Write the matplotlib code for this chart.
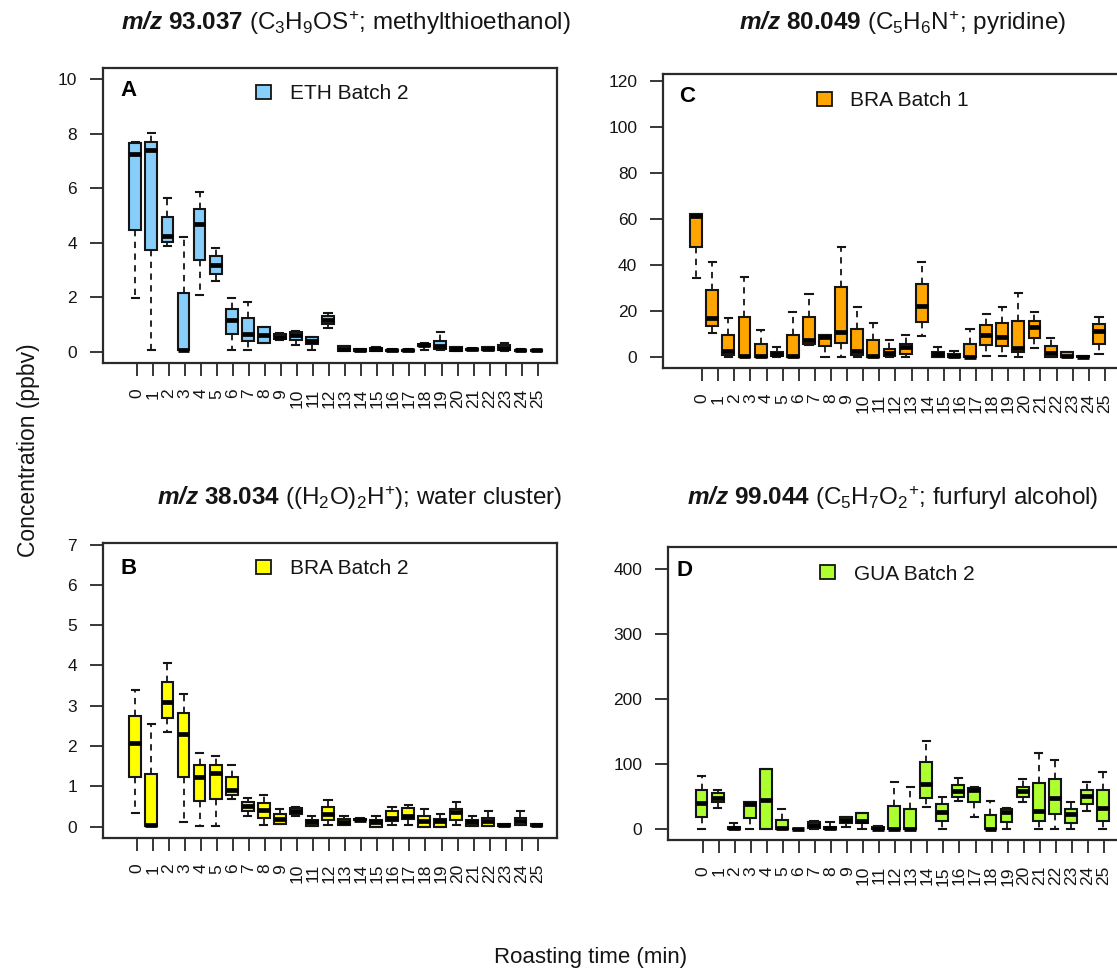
import matplotlib
matplotlib.use('Agg')
import matplotlib.pyplot as plt
from matplotlib.patches import Patch

plt.rcParams['font.family'] = ['Liberation Sans', 'DejaVu Sans']
plt.rcParams['mathtext.fontset'] = 'custom'
plt.rcParams['mathtext.rm'] = 'Liberation Sans'
plt.rcParams['mathtext.it'] = 'Liberation Sans:italic'
plt.rcParams['mathtext.bf'] = 'Liberation Sans:bold'
plt.rcParams['mathtext.bfit'] = 'Liberation Sans:italic:bold'

# ---------------- data ----------------
times = [str(i) for i in range(26)]

# Panel A: m/z 93.037, ETH Batch 2
a_lo  = [1.99, 0.07, 3.89, 0.05, 2.08, 2.59, 0.07, 0.07, 0.33, 0.45, 0.26, 0.07, 0.89,
         0.02, 0.03, 0.03, 0.03, 0.02, 0.07, 0.07, 0.04, 0.06, 0.05, 0.02, 0.04, 0.03]
a_q1  = [4.46, 3.74, 4.02, 0.05, 3.36, 2.84, 0.64, 0.39, 0.33, 0.47, 0.43, 0.28, 1.02,
         0.04, 0.03, 0.03, 0.03, 0.02, 0.22, 0.10, 0.04, 0.06, 0.05, 0.05, 0.04, 0.03]
a_med = [7.25, 7.40, 4.26, 0.08, 4.67, 3.18, 1.16, 0.67, 0.61, 0.55, 0.61, 0.40, 1.16,
         0.12, 0.07, 0.09, 0.05, 0.05, 0.26, 0.20, 0.10, 0.09, 0.10, 0.15, 0.06, 0.05]
a_q3  = [7.66, 7.70, 4.93, 2.14, 5.24, 3.50, 1.57, 1.24, 0.92, 0.65, 0.73, 0.53, 1.30,
         0.20, 0.10, 0.15, 0.08, 0.08, 0.30, 0.38, 0.16, 0.12, 0.17, 0.24, 0.08, 0.07]
a_hi  = [7.70, 8.02, 5.63, 4.20, 5.88, 3.82, 1.96, 1.81, 0.92, 0.68, 0.77, 0.53, 1.42,
         0.22, 0.12, 0.17, 0.09, 0.09, 0.34, 0.71, 0.17, 0.13, 0.18, 0.33, 0.09, 0.08]

# Panel B: m/z 38.034, BRA Batch 2
b_lo  = [0.35, 0.02, 2.34, 0.13, 0.03, 0.03, 0.69, 0.26, 0.05, 0.07, 0.27, 0.01, 0.05,
         0.05, 0.16, 0.00, 0.05, 0.05, 0.00, 0.00, 0.05, 0.01, 0.01, 0.03, 0.05, 0.03]
b_q1  = [1.23, 0.02, 2.70, 1.23, 0.65, 0.69, 0.79, 0.40, 0.21, 0.07, 0.33, 0.01, 0.17,
         0.05, 0.17, 0.00, 0.15, 0.20, 0.00, 0.00, 0.17, 0.01, 0.01, 0.03, 0.05, 0.03]
b_med = [2.09, 0.05, 3.09, 2.30, 1.23, 1.33, 0.91, 0.52, 0.42, 0.20, 0.40, 0.13, 0.31,
         0.13, 0.18, 0.12, 0.23, 0.27, 0.15, 0.15, 0.36, 0.13, 0.15, 0.05, 0.15, 0.05]
b_q3  = [2.74, 1.31, 3.58, 2.83, 1.53, 1.53, 1.23, 0.61, 0.58, 0.31, 0.46, 0.17, 0.49,
         0.20, 0.20, 0.17, 0.40, 0.46, 0.27, 0.19, 0.44, 0.17, 0.23, 0.06, 0.21, 0.07]
b_hi  = [3.40, 2.56, 4.06, 3.30, 1.83, 1.75, 1.53, 0.71, 0.80, 0.44, 0.48, 0.27, 0.66,
         0.27, 0.21, 0.27, 0.48, 0.53, 0.44, 0.31, 0.61, 0.27, 0.40, 0.07, 0.40, 0.08]

# Panel C: m/z 80.049, BRA Batch 1
c_lo  = [34.4, 10.6, 0.1, 0.0, 0.0, 0.0, 0.0, 5.5, 0.0, 0.0, 0.0, 0.0, 0.0,
         0.0, 9.4, 0.0, 0.0, 0.0, 0.7, 0.7, 0.1, 4.0, 0.0, 0.0, 0.0, 1.6]
c_q1  = [47.8, 13.4, 1.2, 0.0, 0.0, 0.4, 0.0, 6.0, 4.8, 6.2, 1.2, 0.0, 0.4,
         1.4, 15.3, 0.0, 0.0, 0.0, 5.5, 4.8, 2.2, 8.4, 0.0, 0.0, 0.0, 5.9]
c_med = [61.2, 17.0, 2.6, 0.4, 0.4, 1.3, 0.7, 7.5, 8.8, 11.0, 2.8, 0.5, 1.9,
         4.5, 22.1, 1.4, 0.7, 0.3, 9.8, 8.8, 4.0, 13.0, 1.9, 0.7, 0.2, 11.3]
c_q3  = [62.3, 29.1, 9.7, 17.5, 5.8, 2.2, 9.7, 17.5, 9.7, 30.4, 12.2, 7.4, 3.6,
         5.8, 31.8, 2.3, 1.6, 5.9, 14.2, 14.9, 15.9, 15.9, 4.8, 2.2, 0.4, 14.6]
c_hi  = [62.3, 41.6, 17.1, 35.1, 12.0, 4.5, 19.7, 27.5, 9.7, 47.8, 22.0, 14.9, 7.4,
         9.7, 41.3, 4.5, 2.9, 12.3, 18.9, 21.8, 27.9, 19.7, 8.4, 2.2, 0.4, 17.5]

# Panel D: m/z 99.044, GUA Batch 2
d_lo  = [0.0, 33.6, 0.0, 0.0, 0.0, 0.0, 0.0, 0.0, 0.0, 4.4, 0.0, 0.0, 0.0,
         0.0, 34.1, 0.0, 44.3, 19.7, 0.0, 0.0, 42.8, 0.0, 0.0, 0.0, 28.4, 0.0]
d_q1  = [19.7, 42.8, 0.0, 17.2, 0.0, 0.0, 0.0, 1.8, 0.0, 9.5, 9.5, 0.0, 0.0,
         0.0, 47.9, 13.1, 50.5, 41.8, 0.0, 12.0, 49.4, 13.1, 23.3, 9.5, 38.7, 13.6]
d_med = [40.2, 48.9, 1.8, 38.7, 45.3, 1.8, 0.3, 6.9, 1.8, 14.6, 13.1, 0.3, 0.5,
         0.5, 70.0, 27.4, 59.7, 60.7, 0.5, 27.4, 59.7, 28.4, 47.9, 23.8, 51.5, 33.6]
d_q3  = [60.7, 55.6, 4.4, 41.8, 93.0, 14.6, 1.0, 12.0, 4.4, 19.7, 24.9, 3.3, 36.1,
         31.0, 104.3, 38.7, 68.4, 63.3, 22.3, 31.0, 65.8, 71.0, 77.1, 31.0, 60.7, 60.7]
d_hi  = [82.7, 60.7, 9.5, 42.8, 93.0, 31.0, 1.0, 13.6, 12.0, 19.7, 24.9, 5.0, 73.5,
         65.8, 136.6, 49.4, 79.7, 64.8, 44.3, 32.5, 77.1, 117.0, 106.8, 41.8, 73.5, 87.9]

# ---------------- layout ----------------
W, H = 1117, 977
fig = plt.figure(figsize=(W / 100, H / 100), dpi=100)
INK = '#151515'


def fx(x):
    return x / W


def fy(y):
    return 1 - y / H


panels = [
    dict(stats=(a_lo, a_q1, a_med, a_q3, a_hi), color='#87CEFA', label='ETH Batch 2', letter='A',
         rect=(103.3, 68.3, 556.7, 362.7), xlim=(-2.08, 26.18), ylim=(-0.4, 10.4),
         yticks=[0, 2, 4, 6, 8, 10], offset=-0.08,
         title=r'$\mathbfit{m/z}$ $\mathbf{93.037}$ (C$_3$H$_9$OS$^{+}$; methylthioethanol)',
         title_xy=(345.5, 23), letter_xy=(120.5, 91), legend_xy=(256, 93.5)),
    dict(stats=(b_lo, b_q1, b_med, b_q3, b_hi), color='#FFFF00', label='BRA Batch 2', letter='B',
         rect=(103.3, 543.3, 556.7, 837.7), xlim=(-2.08, 26.18), ylim=(-0.27, 7.03),
         yticks=[0, 1, 2, 3, 4, 5, 6, 7], offset=-0.08,
         title=r'$\mathbfit{m/z}$ $\mathbf{38.034}$ ((H$_2$O)$_2$H$^{+}$); water cluster)',
         title_xy=(359.5, 498), letter_xy=(121, 568), legend_xy=(256, 568.5)),
    dict(stats=(c_lo, c_q1, c_med, c_q3, c_hi), color='#FFA500', label='BRA Batch 1', letter='C',
         rect=(663.3, 74.3, 1125, 367.7), xlim=(-2.41, 26.25), ylim=(-4.5, 122.9),
         yticks=[0, 20, 40, 60, 80, 100, 120], offset=-0.37,
         title=r'$\mathbfit{m/z}$ $\mathbf{80.049}$ (C$_5$H$_6$N$^{+}$; pyridine)',
         title_xy=(902.5, 23), letter_xy=(679, 97), legend_xy=(816.7, 100.5)),
    dict(stats=(d_lo, d_q1, d_med, d_q3, d_hi), color='#ADFF2F', label='GUA Batch 2', letter='D',
         rect=(668.3, 546.7, 1125, 840.0), xlim=(-2.14, 26.31), ylim=(-16.3, 434.7),
         yticks=[0, 100, 200, 300, 400], offset=-0.07,
         title=r'$\mathbfit{m/z}$ $\mathbf{99.044}$ (C$_5$H$_7$O$_2$$^{+}$; furfuryl alcohol)',
         title_xy=(892.5, 498), letter_xy=(676.5, 571), legend_xy=(820, 574)),
]

for p in panels:
    l, t, r, b = p['rect']
    ax = fig.add_axes([fx(l), fy(b), (r - l) / W, (b - t) / H])
    lo, q1, med, q3, hi = p['stats']
    stats = [dict(med=m, q1=a, q3=c, whislo=w0, whishi=w1, fliers=[])
             for w0, a, m, c, w1 in zip(lo, q1, med, q3, hi)]
    positions = [i + p['offset'] for i in range(len(times))]
    ax.bxp(stats, positions=positions, widths=0.74, capwidths=0.45,
           patch_artist=True, showfliers=False, manage_ticks=False,
           boxprops=dict(facecolor=p['color'], edgecolor=INK, linewidth=1.5),
           medianprops=dict(color='black', linewidth=3.4, solid_capstyle='butt'),
           whiskerprops=dict(color=INK, linewidth=1.3, linestyle=(0, (3.5, 3))),
           capprops=dict(color=INK, linewidth=1.5))
    ax.set_xlim(*p['xlim'])
    ax.set_ylim(*p['ylim'])
    ax.set_xticks(range(len(times)))
    ax.set_xticklabels(times, rotation=90, fontsize=12.5, color=INK)
    ax.set_yticks(p['yticks'])
    ax.set_yticklabels([str(v) for v in p['yticks']], fontsize=12.5, color=INK)
    ax.tick_params(axis='both', direction='out', length=9.4, width=1.2, color=INK, pad=9.4)
    for s in ax.spines.values():
        s.set_linewidth(1.6)
        s.set_color('#2a2a2a')
    ax.legend(handles=[Patch(facecolor=p['color'], edgecolor=INK, linewidth=1.3, label=p['label'])],
              loc='center left', bbox_to_anchor=(fx(p['legend_xy'][0]), fy(p['legend_xy'][1])),
              bbox_transform=fig.transFigure, frameon=False, fontsize=15,
              handlelength=0.72, handleheight=0.65, handletextpad=0.9,
              borderpad=0, borderaxespad=0, labelcolor=INK)
    fig.text(fx(p['letter_xy'][0]), fy(p['letter_xy'][1]), p['letter'], fontsize=16,
             fontweight='bold', ha='left', va='center', color='black')
    fig.text(fx(p['title_xy'][0]), fy(p['title_xy'][1]), p['title'], fontsize=17.5,
             ha='center', va='center', color=INK)

fig.text(fx(29), fy(450), 'Concentration (ppbv)', rotation=90, fontsize=16.5,
         ha='center', va='center', color=INK)
fig.text(fx(591), fy(958), 'Roasting time (min)', fontsize=16,
         ha='center', va='center', color=INK)

fig.savefig('out.png', dpi=100)
